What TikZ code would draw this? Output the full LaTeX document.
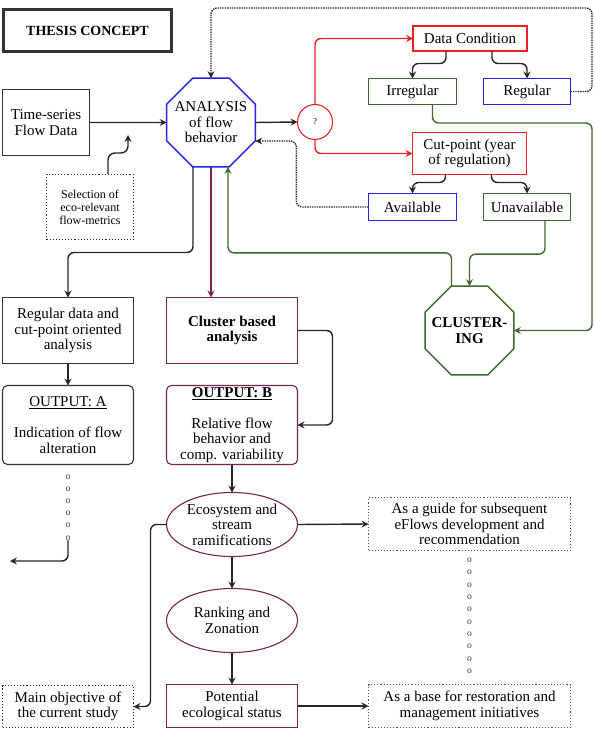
\documentclass[tikz,border=0pt]{standalone}
\usepackage{fontspec}
\setmainfont{Liberation Serif}
\usetikzlibrary{positioning, shapes.geometric, arrows.meta, calc}

\definecolor{anablue}{RGB}{35,35,230}
\definecolor{qred}{RGB}{235,35,35}
\definecolor{clugreen}{RGB}{60,105,45}
\definecolor{outpurple}{RGB}{120,35,80}

\begin{document}
\begin{tikzpicture}[x=1pt, y=-1pt,
    box/.style={draw=black!80, line width=1.1pt, align=center, inner sep=0pt, outer sep=0pt,
      font=\fontsize{15}{15.5}\selectfont},
    oct/.style={box, regular polygon, regular polygon sides=8, inner sep=-15pt,
      minimum size=96pt, line width=1.4pt},
    oval/.style={box, ellipse, draw=outpurple, minimum width=131pt, minimum height=64pt},
    small/.style={font=\fontsize{12}{13}\selectfont},
    dotmark/.style={inner sep=0pt, text=black!80, font=\fontsize{9.5}{9.5}\selectfont},
    conn/.style={-{Stealth[length=7pt, width=7pt, inset=2.5pt]}, line width=1.4pt, black!85, rounded corners=6pt},
    dconn/.style={conn, densely dotted},
    rconn/.style={conn, qred},
    gconn/.style={conn, clugreen}]
    \useasboundingbox (0,0) rectangle (594,746);

    % left column and title
    \node[box, line width=2.6pt, minimum width=168pt, minimum height=42pt,
      font=\bfseries\fontsize{14}{14}\selectfont] (title) at (87.5,30.5) {THESIS CONCEPT};
    \node[box, minimum width=87pt, minimum height=66pt] (ts) at (46,122.5) {Time-series\\Flow Data};
    \node[box, dotted, small, minimum width=87pt, minimum height=65pt] (sel) at (90,207)
      {Selection of\\eco-relevant\\flow-metrics};
    \node[oct, draw=anablue] (ana) at (211,122.5) {ANALYSIS\\of flow\\behavior};

    % decision part
    \node[box, circle, draw=qred, minimum size=35pt, font=\fontsize{9}{9}\selectfont] (q) at (315,122) {?};
    \node[box, draw=qred, minimum width=114pt, minimum height=25pt] (dc) at (470,38.5) {Data Condition};
    \node[box, draw=clugreen, minimum width=88pt, minimum height=26pt] (irr) at (412.5,91.5) {Irregular};
    \node[box, draw=anablue, minimum width=87pt, minimum height=26pt] (reg) at (527,91.5) {Regular};
    \node[box, draw=qred, minimum width=114pt, minimum height=42pt] (cut) at (469.5,153.5)
      {Cut-point (year\\of regulation)};
    \node[box, draw=anablue, minimum width=88pt, minimum height=27pt] (avl) at (412.5,207) {Available};
    \node[box, draw=clugreen, minimum width=87pt, minimum height=27pt] (unav) at (527,207) {Unavailable};
    \node[oct, draw=clugreen, font=\bfseries\fontsize{15}{15.5}\selectfont] (clu) at (469.5,330.5) {CLUSTER-\\ING};

    % analysis branches
    \node[box, minimum width=131pt, minimum height=66pt] (rda) at (68,330.5)
      {Regular data and\\cut-point oriented\\analysis};
    \node[box, draw=outpurple, minimum width=131pt, minimum height=66pt,
      font=\bfseries\fontsize{15}{15.5}\selectfont] (cba) at (232,330.5) {Cluster based\\analysis};
    \node[box, rounded corners=5pt, minimum width=131pt, minimum height=79pt] (outa) at (68,425)
      {\underline{OUTPUT: A}\\[15.5pt]Indication of flow\\alteration};
    \node[box, draw=outpurple, rounded corners=5pt, minimum width=131pt, minimum height=79pt] (outb) at (232,425)
      {\underline{\textbf{OUTPUT: B}}\\[15.5pt]Relative flow\\behavior and\\comp. variability};

    % outcomes
    \node[oval] (eco) at (232,524.5) {Ecosystem and\\stream\\ramifications};
    \node[oval] (rank) at (232,620.5) {Ranking and\\Zonation};
    \node[box, draw=outpurple, minimum width=131pt, minimum height=43pt] (pes) at (232,706)
      {Potential\\ecological status};
    \node[box, dotted, minimum width=131pt, minimum height=42pt] (mob) at (68,706.5)
      {Main objective of\\the current study};
    \node[box, dotted, draw=clugreen, minimum width=202pt, minimum height=53pt] (guide) at (469.5,524)
      {As a guide for subsequent\\eFlows development and\\recommendation};
    \node[box, dotted, draw=clugreen, minimum width=202pt, minimum height=43pt] (base) at (469.5,706)
      {As a base for restoration and\\management initiatives};

    \foreach \i in {0,...,5}
      \node[dotmark] (da\i) at (68,477+12.2*\i) {o};
    \foreach \i in {0,...,9}
      \node[dotmark] (dg\i) at (469.5,560.5+12.3*\i) {o};

    \coordinate (selTip) at (128,135);
    \coordinate (aEnd) at (10,561);
    \coordinate (anaSE) at ($(ana.east)+(0,18.5)$);

    % connectors
    \draw[conn] (ts.east) -- (ana.west);
    \draw[conn, rounded corners=7pt] ($(sel.north)+(18,0)$) |- ($(selTip)+(0,18)$) -- (selTip);
    \draw[conn] (ana.east) -- (q.west);
    \draw[rconn] (q.north) |- (dc.west);
    \draw[rconn] (q.south) |- (cut.west);
    \draw[conn] ($(dc.south)+(-24,0)$) |- ($(irr.north)+(0,-15)$) -- (irr.north);
    \draw[conn] ($(dc.south)+(22,0)$) |- ($(reg.north)+(0,-15)$) -- (reg.north);
    \draw[conn] ($(cut.south)+(-24,0)$) |- ($(avl.north)+(0,-11)$) -- (avl.north);
    \draw[conn] ($(cut.south)+(22,0)$) |- ($(unav.north)+(0,-11)$) -- (unav.north);
    \draw[dconn] (reg.east) -| (592,8) -| (ana.north);
    \draw[dconn] (avl.west) -| ($(anaSE)+(41,0)$) -- (anaSE);
    \draw[gconn] ($(irr.south)+(20,0)$) |- (592,123) |- (clu.east);
    \draw[gconn] ($(unav.south)+(18,0)$) |- ($(clu.north)+(0,-32)$) -- (clu.north);
    \draw[gconn] ($(clu.north)+(-18,0)$) |- ($(ana.south)+(17,86)$) -- ($(ana.south)+(17,0)$);
    \draw[conn] ($(ana.south)+(-18,0)$) |- ($(rda.north)+(0,-45)$) -- (rda.north);
    \draw[conn, outpurple] (ana.south) -- (ana.south |- cba.north);
    \draw[conn] (rda.south) -- (outa.north);
    \draw[conn] (cba.east) -- ++(35,0) |- (outb.east);
    \draw[conn] (outb.south) -- (eco.north);
    \draw[conn] (eco.south) -- (rank.north);
    \draw[conn] (rank.south) -- (pes.north);
    \draw[conn] (eco.west) -- ++(-16,0) |- (mob.east);
    \draw[conn] (eco.east) -- (guide.west);
    \draw[conn] (pes.east) -- (base.west);
    \draw[conn] (da5.south) |- (aEnd);
  \end{tikzpicture}
\end{document}
